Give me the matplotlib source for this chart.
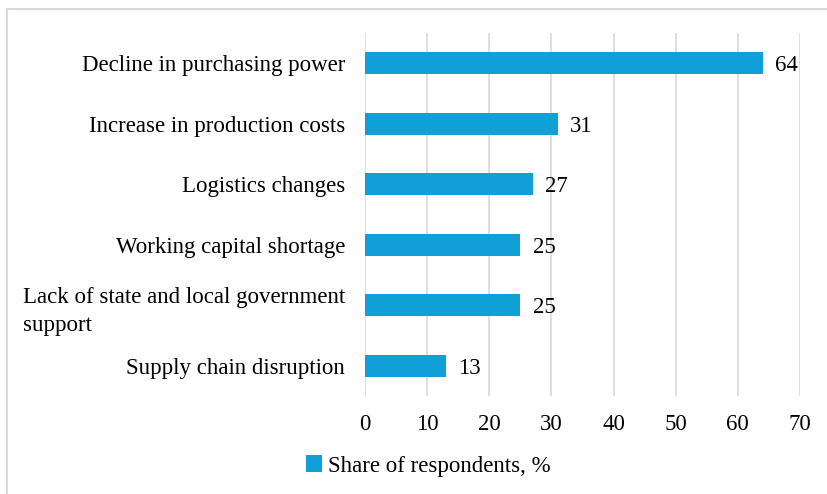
import matplotlib
matplotlib.use("Agg")
import matplotlib.pyplot as plt
from matplotlib.patches import Rectangle

categories = ["Decline in purchasing power", "Increase in production costs", "Logistics changes",
              "Working capital shortage", "Lack of state and local government\nsupport",
              "Supply chain disruption"]
values = [64, 31, 27, 25, 25, 13]
xticks = [0, 10, 20, 30, 40, 50, 60, 70]
series_name = "Share of respondents, %"

plt.rcParams['font.family'] = ['Liberation Serif', 'DejaVu Serif']
color = "#109FD6"
fs = 16.5

fig = plt.figure(figsize=(8.28, 4.94), dpi=100)
fig.patches.append(Rectangle((7/828, -0.1), 1.2, 1 - 9/494 + 0.1, transform=fig.transFigure,
                             fill=False, edgecolor="#d9d9d9", linewidth=1.5))
ax = fig.add_axes([365/828, 1 - 396/494, 435/828, 363/494])
ypos = list(range(len(categories)))
bars = ax.barh(ypos, values, height=0.36, color=color, label=series_name, zorder=3)
ax.set_ylim(len(categories) - 0.5, -0.5)
ax.set_xlim(0, 70)
ax.set_xticks(xticks)
ax.set_yticks(ypos)
ax.set_yticklabels(categories, fontsize=fs, multialignment='left', linespacing=1.45)
ax.tick_params(axis='x', labelsize=fs, length=0, pad=13)
ax.tick_params(axis='y', length=0, pad=14.4)
for s in ax.spines.values():
    s.set_visible(False)
ax.grid(axis='x', color="#d9d9d9", linewidth=1.2, zorder=0)
for b, v in zip(bars, values):
    ax.text(b.get_width() + 2.0, b.get_y() + b.get_height() / 2 + 0.04, str(v), va='center', ha='left',
            fontsize=fs)
fig.legend(handles=[bars], labels=[series_name], loc='center', bbox_to_anchor=(428/828, 1 - 466/494),
           frameon=False, fontsize=fs, handlelength=0.7, handleheight=0.7, handletextpad=0.25)
fig.savefig("out.png", dpi=100)
